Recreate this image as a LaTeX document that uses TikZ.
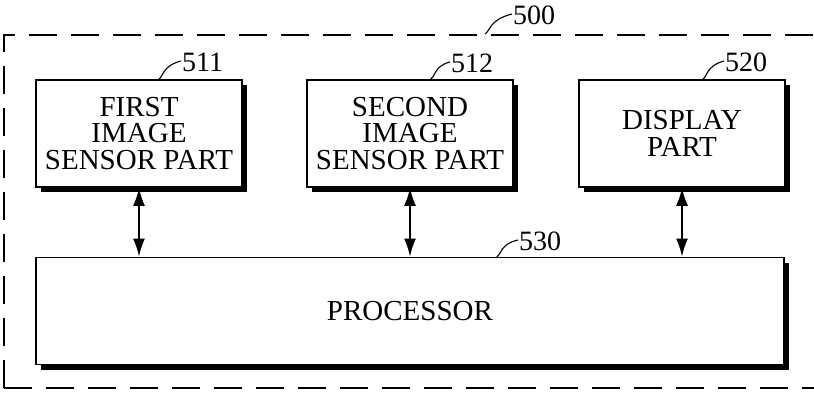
\documentclass[tikz,border=0pt]{standalone}
\usepackage{fontspec}
\setmainfont{Liberation Serif}
\usetikzlibrary{arrows.meta,calc}
\begin{document}
\begin{tikzpicture}[x=1pt,y=-1pt,
  blk/.style={draw,line width=1.8pt,fill=white,minimum width=206pt,minimum height=107pt,
    inner sep=0pt,align=center,font=\fontsize{29}{26.5}\selectfont},
  lbl/.style={font=\fontsize{28}{28}\selectfont,inner sep=0pt,anchor=west},
  lead/.style={line width=1.1pt},
  link/.style={line width=1.8pt,{Latex[length=18pt,width=12pt]}-{Latex[length=18pt,width=12pt]}}]
\useasboundingbox (0,0) rectangle (814,398);
\clip (0,0) rectangle (814,398);
% outer dashed container
\draw[line width=1.6pt,dash pattern=on 28pt off 14pt] (4,388) -- (4,35) -- (840,35);
\draw[line width=1.6pt,dash pattern=on 28pt off 14pt] (4,388) -- (840,388);
% shadows
\foreach \cx/\cy/\w in {139/133.5/206, 410/133.5/206, 682/133.5/206, 410/311/748}{
  \fill ({\cx-\w/2+5},{\cy-53.5+5}) rectangle ({\cx+\w/2+5},{\cy+53.5+5});
}
\node[blk] (b511) at (139,133.5) {FIRST\\IMAGE\\SENSOR PART};
\node[blk] (b512) at (410,133.5) {SECOND\\IMAGE\\SENSOR PART};
\node[blk] (b520) at (682,133.5) {DISPLAY\\PART};
\node[blk,minimum width=748pt] (proc) at (410,311) {PROCESSOR};
% links
\draw[link] (b511.south) -- (b511.south |- proc.north);
\draw[link] (b512.south) -- (b512.south |- proc.north);
\draw[link] (b520.south) -- (b520.south |- proc.north);
% reference labels
\node[lbl] (n500) at (513,15) {500};
\node[lbl] (n511) at (182,62) {511};
\node[lbl] (n512) at (451,63) {512};
\node[lbl] (n520) at (725,62) {520};
\node[lbl] (n530) at (519,241) {530};
\coordinate (c500) at (485,34);
\coordinate (c511) at (158,80);
\coordinate (c512) at (430,80);
\coordinate (c520) at (702,80);
\coordinate (c530) at (496,258);
\foreach \n in {500,511,512,520,530}{
  \draw[lead] (c\n) .. controls ($(c\n)+(6,-4)$) and ($(c\n)+(4,-14)$) .. ($(n\n.west)+(-1,-1)$);
}
\end{tikzpicture}
\end{document}
